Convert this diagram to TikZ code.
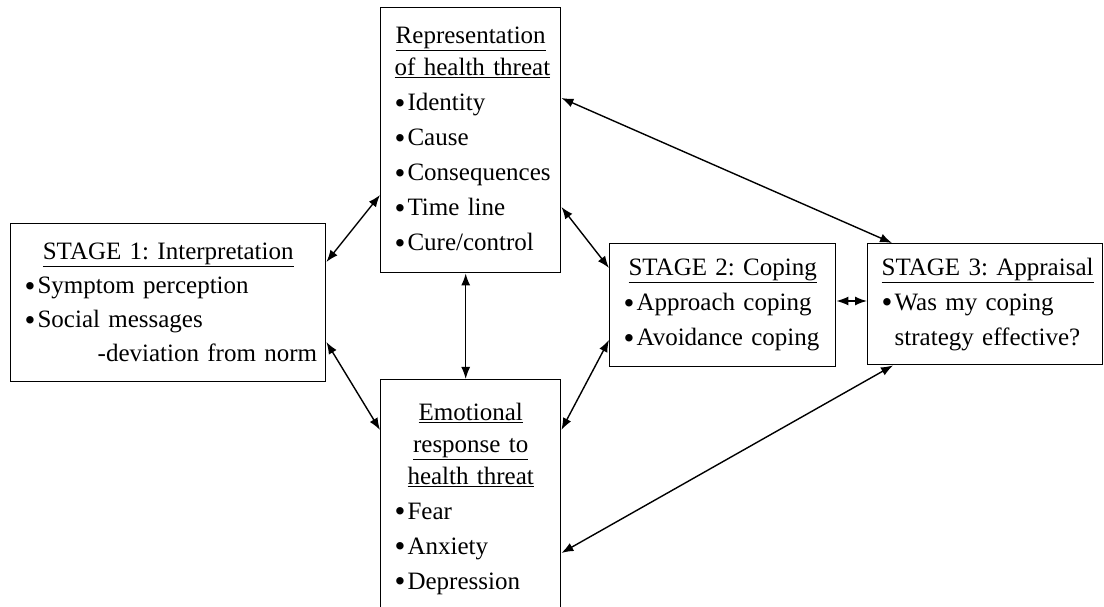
\documentclass[tikz,border=0pt]{standalone}
\usepackage{fontspec}
\setmainfont{Liberation Serif}
\usepackage{tikz}
\usetikzlibrary{arrows.meta, positioning}
\setlength\parindent{0pt}
\frenchspacing
\newcommand{\bul}{\raisebox{-2.5pt}{\fontsize{31}{34}\selectfont•}\kern2pt}
\newcommand{\panelfont}{\fontsize{25}{35}\selectfont\spaceskip=4.5pt plus 1pt minus 1pt\relax}

\begin{document}
\begin{tikzpicture}[
                x=1pt, y=1pt,
                panel/.style={draw, line width=1.4pt, anchor=north west, inner xsep=14pt, inner ysep=0pt,
                    font=\panelfont},
                link/.style={<->, >={Latex[length=12pt,width=9pt]}, line width=1.4pt}
            ]

            \useasboundingbox (0,0) rectangle (1104,606);

            \node[panel, minimum width=315pt, minimum height=158pt, text width=287pt,
                  font=\panelfont\fontsize{25}{34}\selectfont] (stageone) at (10,383)
                {\centering\underline{STAGE 1: Interpretation}\par\raggedright
                 \bul Symptom perception\\ \bul Social messages\\ \hspace*{73pt}\mbox{-deviation from norm}};
            \node[panel, minimum width=180pt, minimum height=265pt, text width=152pt] (repr) at (380,599)
                {\centering\underline{Representation}\\[-3pt] \underline{of health threat}\par\raggedright
                 \bul Identity\\ \bul Cause\\ \bul Consequences\\ \bul Time line\\ \bul Cure/control};
            \node[panel, minimum width=180pt, minimum height=238pt, text width=152pt] (emo) at (380,227)
                {\centering\underline{Emotional}\\[-3pt] \underline{response to}\\[-3pt] \underline{health threat}\par\raggedright
                 \bul Fear\\ \bul Anxiety\\ \bul Depression};
            \node[panel, minimum width=226pt, minimum height=123pt, text width=198pt] (stagetwo) at (609,363)
                {\centering\underline{STAGE 2: Coping}\par\raggedright
                 \bul Approach coping\\ \bul Avoidance coping};
            \node[panel, minimum width=235pt, minimum height=121pt, text width=207pt] (stagethree) at (867,363)
                {\centering\underline{STAGE 3: Appraisal}\par\raggedright
                 \bul Was my coping\\ \hspace*{13pt}strategy effective?};

            \draw[link] (stageone.east |- 0,344) -- (repr.west |- 0,411);
            \draw[link] (stageone.east |- 0,264) -- (emo.west |- 0,176);
            \draw[link] ([xshift=-5pt]repr.south) -- ([xshift=-5pt]emo.north);
            \draw[link] (repr.east |- 0,399) -- (stagetwo.west |- 0,338);
            \draw[link] (emo.east |- 0,176) -- (stagetwo.west |- 0,266);
            \draw[link] (repr.east |- 0,508) -- (stagethree.north -| 892,0);
            \draw[link] (emo.east |- 0,53) -- (stagethree.south -| 893,0);
            \draw[link] (stagetwo.east |- 0,305) -- (stagethree.west |- 0,305);

        \end{tikzpicture}
\end{document}
